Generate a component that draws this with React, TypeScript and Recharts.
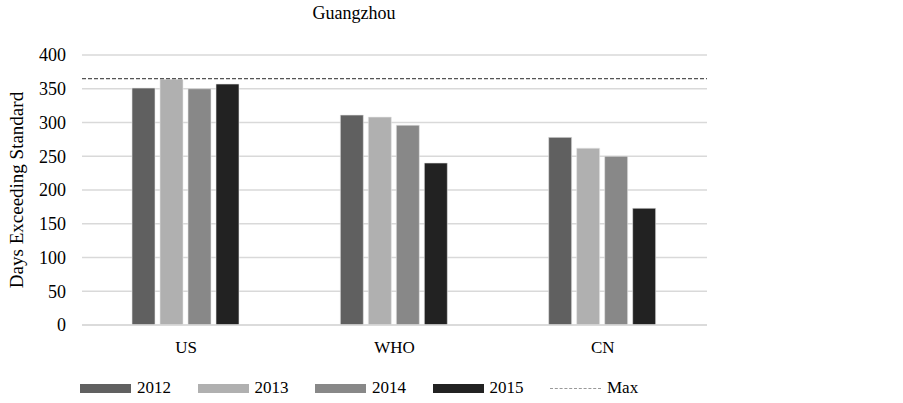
import { BarChart, Bar, XAxis, YAxis, CartesianGrid, ReferenceLine } from "recharts";

const categories = ["US", "WHO", "CN"];
const years = ["2012", "2013", "2014", "2015"];
const values2012 = [351, 311, 278];
const values2013 = [364, 308, 262];
const values2014 = [350, 296, 250];
const values2015 = [357, 240, 173];
const maxDays = 365;
const yTicks = [0, 50, 100, 150, 200, 250, 300, 350, 400];

const colors = ["#606060", "#b0b0b0", "#888888", "#222222"];
const seriesValues = [values2012, values2013, values2014, values2015];

const data = categories.map((name, i) => {
  const row: Record<string, string | number> = { name };
  years.forEach((y, k) => {
    row[y] = seriesValues[k][i];
  });
  return row;
});

const font = "'Liberation Serif', 'Times New Roman', serif";

export default function App() {
  return (
    <div style={{ position: "absolute", left: 0, top: 0, width: 903, height: 403, fontFamily: font, background: "#fff" }}>
      <div style={{ position: "absolute", left: 0, top: 3, width: 708, textAlign: "center", fontSize: 18, color: "#000" }}>
        Guangzhou
      </div>
      <BarChart
        width={903}
        height={403}
        data={data}
        margin={{ top: 55, right: 196, left: 0, bottom: 48 }}
        barCategoryGap="24%"
        barGap={5}
      >
        <CartesianGrid vertical={false} stroke="#d9d9d9" strokeWidth={1.5} />
        <XAxis
          dataKey="name"
          axisLine={{ stroke: "#d9d9d9", strokeWidth: 1.5 }}
          tickLine={false}
          tickMargin={10}
          tick={{ fontSize: 17, fill: "#000", fontFamily: font }}
        />
        <YAxis
          width={82}
          domain={[0, 400]}
          ticks={yTicks}
          axisLine={false}
          tickLine={false}
          tickMargin={10}
          tick={{ fontSize: 18, fill: "#000", fontFamily: font }}
          label={{
            value: "Days Exceeding Standard",
            angle: -90,
            position: "insideLeft",
            dx: 11,
            style: { textAnchor: "middle", fontSize: 19, fill: "#000", fontFamily: font },
          }}
        />
        {years.map((y, k) => (
          <Bar key={y} dataKey={y} fill={colors[k]} stroke="#e6e6e6" strokeWidth={0.6} isAnimationActive={false} />
        ))}
        <ReferenceLine y={maxDays} stroke="#555" strokeDasharray="4 2" strokeWidth={1.2} />
      </BarChart>
      <div style={{ position: "absolute", left: 80, top: 378, display: "flex", fontSize: 17, color: "#000" }}>
        {years.map((y, k) => (
          <div key={y} style={{ width: 117.5, display: "flex", alignItems: "center" }}>
            <span style={{ display: "inline-block", width: 51, height: 9, background: colors[k], marginRight: 6 }} />
            <span>{y}</span>
          </div>
        ))}
        <div style={{ display: "flex", alignItems: "center" }}>
          <span style={{ display: "inline-block", width: 51, borderTop: "1px dashed #999", marginRight: 6 }} />
          <span>Max</span>
        </div>
      </div>
    </div>
  );
}
